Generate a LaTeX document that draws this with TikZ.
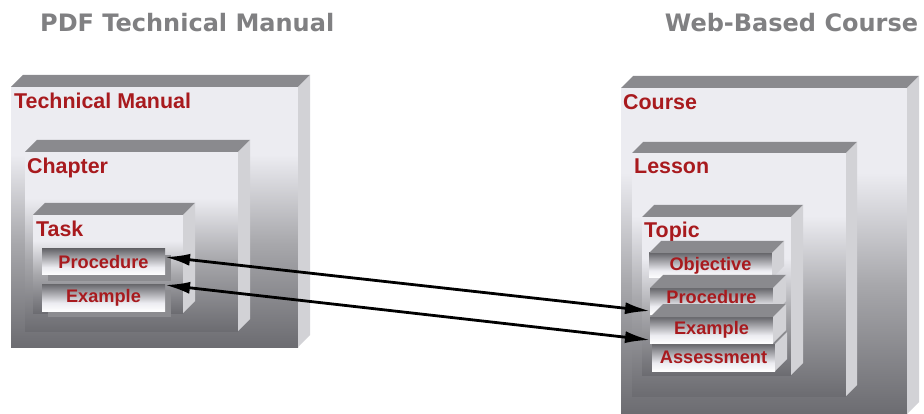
\documentclass[tikz,border=0pt]{standalone}
\usepackage{fontspec}
\setmainfont{Liberation Sans}
\newfontfamily\titlefont{DejaVu Sans}
\usetikzlibrary{arrows.meta}
\definecolor{labred}{RGB}{168,26,30}
\definecolor{titlegray}{RGB}{128,128,130}
\definecolor{topgray}{RGB}{138,138,142}
\definecolor{sidegray}{RGB}{210,210,214}
\definecolor{lt}{RGB}{236,236,241}
\definecolor{dk}{RGB}{108,108,113}
\definecolor{mid}{RGB}{168,168,172}
\definecolor{shadowgray}{RGB}{140,140,144}
\pgfdeclareverticalshading{bigshade}{100bp}{color(0bp)=(dk); color(25bp)=(dk); color(45bp)=(mid); color(62bp)=(lt); color(100bp)=(lt)}
\pgfdeclareverticalshading{smallshade}{100bp}{color(0bp)=(white); color(25bp)=(white!95!lt); color(40bp)=(lt); color(75bp)=(dk!95!black); color(100bp)=(dk!95!black)}
\tikzset{
  bigface/.style={rectangle, inner sep=0pt, outer sep=0pt, anchor=north west, shade, shading=bigshade},
  smallface/.style={rectangle, inner sep=0pt, outer sep=0pt, anchor=north west, shade, shading=smallshade,
     font=\bfseries\fontsize{18.2}{19}\selectfont, text=labred},
  biglab/.style={anchor=base west, inner sep=0pt, font=\bfseries\fontsize{21.4}{22}\selectfont, text=labred},
  titlelab/.style={anchor=base west, inner sep=0pt, font=\titlefont\bfseries\fontsize{24}{26}\selectfont, text=titlegray},
  topface/.style={fill=topgray},
  sideface/.style={fill=sidegray},
  link/.style={line width=2.8pt, {Latex[length=25pt,width=12pt]}-{Latex[length=25pt,width=12pt]}}
}
\newcommand\boxfaces[2]{%
  \fill[topface] (#1.north west) -- ++(#2,-#2) -- ([xshift=#2pt,yshift=#2pt]#1.north east) -- (#1.north east) -- cycle;
  \fill[sideface] (#1.north east) -- ++(#2,-#2) -- ([xshift=#2pt,yshift=#2pt]#1.south east) -- (#1.south east) -- cycle;
}
\begin{document}
\begin{tikzpicture}[x=1pt,y=-1pt]
\useasboundingbox (0,0) rectangle (924,414);
% titles
\node[titlelab] (t1) at (40,32) {PDF Technical Manual};
\node[titlelab, anchor=base] (t2) at (791.5,32) {Web-Based Course};
% left side
\node[bigface, minimum width=287pt, minimum height=260pt] (tm) at (11,87) {};
\boxfaces{tm}{12}
\node[biglab] (tmlab) at (14,109) {Technical Manual};
\node[bigface, minimum width=213pt, minimum height=179pt] (ch) at (25,152) {};
\boxfaces{ch}{12}
\node[biglab] (chlab) at (27,174) {Chapter};
\node[bigface, minimum width=150pt, minimum height=98pt] (tk) at (33,215) {};
\boxfaces{tk}{12}
\node[biglab] (tklab) at (36,237) {Task};
\fill[shadowgray] (48,255) rectangle (171,281);
\fill[shadowgray] (48,290) rectangle (171,317);
\node[smallface, minimum width=123pt, minimum height=26pt] (lproc) at (42,249) {Procedure};
\node[smallface, minimum width=123pt, minimum height=27pt] (lex) at (42,284) {Example};
% right side
\node[bigface, minimum width=286pt, minimum height=326pt] (course) at (621,88) {};
\boxfaces{course}{12}
\node[biglab] (courselab) at (623,110) {Course};
\node[bigface, minimum width=214pt, minimum height=243pt] (lesson) at (632,153) {};
\boxfaces{lesson}{11}
\node[biglab] (lessonlab) at (634,174) {Lesson};
\node[bigface, minimum width=149pt, minimum height=158pt] (topic) at (642,217) {};
\boxfaces{topic}{12}
\node[biglab] (topiclab) at (644,238) {Topic};
\node[smallface, minimum width=123pt, minimum height=25pt] (obj) at (649,253) {Objective};
\boxfaces{obj}{12}
\node[smallface, minimum width=123pt, minimum height=26pt, text height=13pt, text depth=8pt] (rproc) at (650,288) {Procedure};
\boxfaces{rproc}{13}
\node[smallface, minimum width=123pt, minimum height=27pt] (asm) at (652,344) {Assessment};
\boxfaces{asm}{12}
\node[smallface, minimum width=123pt, minimum height=26pt] (rex) at (650,317) {Example};
\boxfaces{rex}{13}
% links
\draw[link] ([yshift=5pt]lproc.east) -- ([yshift=3pt]rproc.south west);
\draw[link] ([yshift=-1pt]lex.north east) -- ([yshift=3pt]rex.south west);
\end{tikzpicture}
\end{document}
